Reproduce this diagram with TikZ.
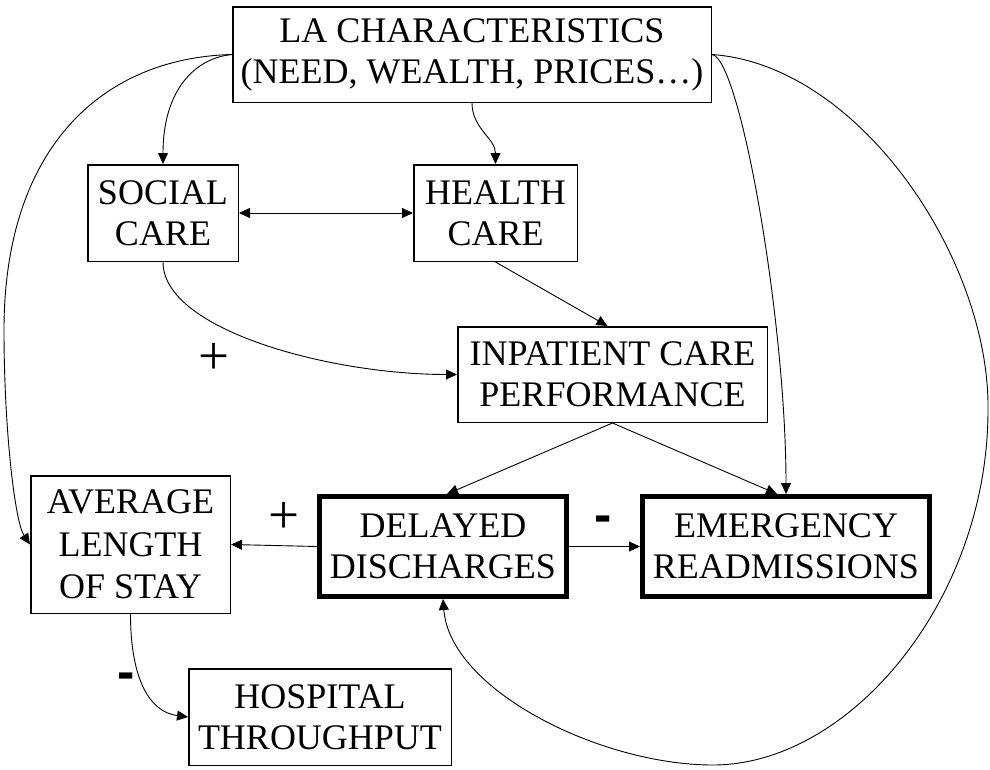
\documentclass[tikz,border=0pt]{standalone}
\usepackage{fontspec}
\setmainfont{Liberation Serif}
\newfontfamily\signfont{Liberation Sans}
\usetikzlibrary{arrows.meta}
\tikzset{
 box/.style={draw, line width=1.5pt, inner sep=0pt, align=center, font=\fontsize{36}{41}\selectfont},
 thickbox/.style={box, line width=5pt},
 conn/.style={line width=0.9pt, ->},
 plussign/.style={inner sep=0pt, font=\fontsize{55}{55}\selectfont},
 minussign/.style={inner sep=0pt, anchor=base, font=\signfont\bfseries\fontsize{52}{52}\selectfont},
}
\begin{document}
\begin{tikzpicture}[x=1pt,y=-1pt,>={Triangle[length=11pt,width=10pt]}]
\useasboundingbox (0,0) rectangle (990,769);
% nodes
\node[box, minimum width=478.5pt, minimum height=95.5pt] (la) at (472,54.5) {LA CHARACTERISTICS\\(NEED, WEALTH, PRICES…)};
\node[box, minimum width=150.5pt, minimum height=96.5pt] (social) at (163,213) {SOCIAL\\CARE};
\node[box, minimum width=163.5pt, minimum height=96.5pt] (health) at (495.5,213) {HEALTH\\CARE};
\node[box, minimum width=309.5pt, minimum height=95.5pt] (inpat) at (612.5,374.5) {INPATIENT CARE\\PERFORMANCE};
\node[box, minimum width=199.5pt, minimum height=137.5pt, font=\fontsize{36}{42.5}\selectfont] (avg) at (130.5,544.5) {AVERAGE\\LENGTH\\OF STAY};
\node[thickbox, minimum width=247pt, minimum height=100pt] (delay) at (443,546.5) {DELAYED\\DISCHARGES};
\node[thickbox, minimum width=287pt, minimum height=100pt] (emerg) at (786,546.5) {EMERGENCY\\READMISSIONS};
\node[box, minimum width=262.5pt, minimum height=96.5pt] (hosp) at (320,717) {HOSPITAL\\THROUGHPUT};
% signs
\node[plussign] (p1) at (214,359) {+};
\node[plussign] (p2) at (284,518) {+};
\node[minussign] (m1) at (126.5,689.5) {-};
\node[minussign] (m2) at (603.5,532) {-};
% connectors
\draw[conn] (la.west) .. controls (195,58) and (163,90) .. (social.north);
\draw[conn] (la.west) .. controls (100,58) and (4,150) .. (4,330) .. controls (4,430) and (15,522) .. (avg.west);
\draw[conn] (la.south) to[out=-90,in=90] (health.north);
\draw[conn,<->] (social.east) -- (health.west);
\draw[conn] (social.south) .. controls (163,330) and (330,374.5) .. (inpat.west);
\draw[conn] (health.south) -- ([xshift=-5pt]inpat.north);
\draw[conn] (inpat.south) -- ([xshift=4pt]delay.north);
\draw[conn] (inpat.south) -- ([xshift=-9pt]emerg.north);
\draw[conn] (la.east) .. controls (740,58) and (786,320) .. (emerg.north);
\draw[conn] (la.east) .. controls (860,65) and (990,260) .. (988,410) .. controls (988,600) and (850,765) .. (713,765) .. controls (600,765) and (450,690) .. (delay.south);
\draw[conn] (delay.west) -- (avg.east);
\draw[conn] (delay.east) -- (emerg.west);
\draw[conn] (avg.south) .. controls (130.5,680) and (150,712) .. (hosp.west);
\end{tikzpicture}
\end{document}
